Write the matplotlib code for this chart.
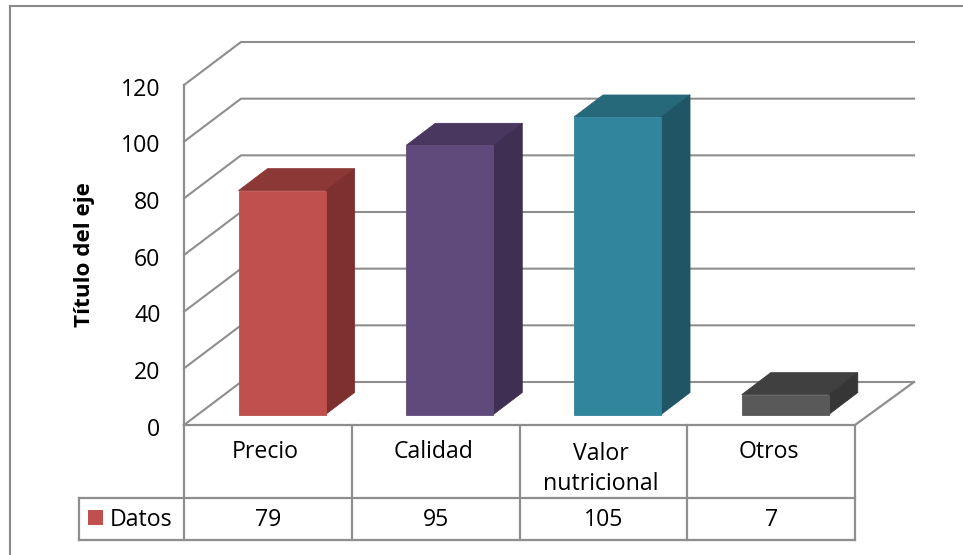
import matplotlib
matplotlib.use("Agg")
import matplotlib.pyplot as plt
from matplotlib.lines import Line2D
from matplotlib.patches import Polygon, Rectangle
from matplotlib.transforms import ScaledTranslation

categories = ["Precio", "Calidad", "Valor\nnutricional", "Otros"]
values = [79, 95, 105, 7]
series_name = "Datos"
axis_title = "Título del eje"
y_ticks = [0, 20, 40, 60, 80, 100, 120]

front_colors = ["#C0504D", "#604A7B", "#31859C", "#595959"]
top_colors = ["#8C3836", "#4A3760", "#26697B", "#404040"]
side_colors = ["#7D302E", "#3F2F52", "#1F5564", "#363636"]

W, H = 963, 555
GRID = "#8E8E8E"
TEXT = "#000000"
plt.rcParams["font.family"] = ["Open Sans", "DejaVu Sans"]

fig = plt.figure(figsize=(W / 100, H / 100), dpi=100, facecolor="white")

# Chart frame: only the top and left edges fall inside the image
fig.add_artist(Line2D([9.5 / W, 9.5 / W, 1], [0, 1 - 5.5 / H, 1 - 5.5 / H], transform=fig.transFigure,
                      color="#8A8A8A", lw=1.5, solid_joinstyle="miter"))

# Axes holds the front plane of the oblique 3D box
ax = fig.add_axes([184 / W, 1 - 425 / H, 671 / W, 340 / H])
ax.set_xlim(0, 4)
ax.set_ylim(0, 120)
ax.patch.set_visible(False)
for name, spine in ax.spines.items():
    spine.set_visible(name == "left")
ax.spines["left"].set_color(GRID)
ax.spines["left"].set_linewidth(1.6)
ax.set_xticks([])
ax.set_yticks(y_ticks)
ax.tick_params(axis="y", length=0, pad=17, labelsize=16.7, labelcolor=TEXT)
for tick_label in ax.get_yticklabels():
    tick_label.set_transform(tick_label.get_transform() + ScaledTranslation(0, -1.5 / 100, fig.dpi_scale_trans))
ax.set_ylabel(axis_title, fontsize=16.2, fontweight="bold", labelpad=19, color=TEXT)

x_per_px = 4 / 671
y_per_px = 120 / 340
depth_x = 57 * x_per_px
depth_y = 43 * y_per_px

# Wall grid lines with their receding edge on the left side wall
for t in y_ticks:
    ax.plot([0, depth_x, 730 * x_per_px], [t, t + depth_y, t + depth_y],
            color=GRID, lw=1.5, clip_on=False, zorder=1, solid_joinstyle="miter")

# Floor outline
ax.plot([0, 4, 4 + depth_x + 2 * x_per_px], [0, 0, depth_y],
        color=GRID, lw=1.6, clip_on=False, zorder=1)

# Bars: top face, side face, front face
bar_width = 87 * x_per_px
bar_inset = (168 - 87) / 2 * x_per_px
bar_shift = 29 * x_per_px
bar_rise = 22 * y_per_px
floor = 10.5 * y_per_px
for i, v in enumerate(values):
    x0 = i + bar_inset + 14 * x_per_px
    x1 = x0 + bar_width
    y1 = floor + v
    ax.add_patch(Polygon([(x0, y1), (x1, y1), (x1 + bar_shift, y1 + bar_rise), (x0 + bar_shift, y1 + bar_rise)],
                         facecolor=top_colors[i], edgecolor=top_colors[i], lw=0.6, zorder=3, clip_on=False))
    ax.add_patch(Polygon([(x1, floor), (x1 + bar_shift, floor + bar_rise), (x1 + bar_shift, y1 + bar_rise), (x1, y1)],
                         facecolor=side_colors[i], edgecolor=side_colors[i], lw=0.6, zorder=3, clip_on=False))
    ax.add_patch(Rectangle((x0, floor), bar_width, v,
                           facecolor=front_colors[i], edgecolor=front_colors[i], lw=0.6, zorder=4, clip_on=False))

# Data table under the plot
row_top = -(498 - 425) * y_per_px
row_end = -(540 - 425) * y_per_px
for i in range(5):
    ax.plot([i, i], [0, row_end], color=GRID, lw=1.6, clip_on=False, zorder=1)
left_edge = -(184 - 79) * x_per_px
for y in (row_top, row_end):
    ax.plot([left_edge, 4], [y, y], color=GRID, lw=1.6, clip_on=False, zorder=1)
ax.plot([left_edge, left_edge], [row_top, row_end], color=GRID, lw=1.6, clip_on=False, zorder=1)

for i, (label, v) in enumerate(zip(categories, values)):
    label_y = (469 if "\n" in label else 452) - 425
    ax.text(i + 0.485, -label_y * y_per_px, label, ha="center", va="center",
            fontsize=16.7, color=TEXT, linespacing=1.32, clip_on=False)
    ax.text(i + 0.5, -(519.5 - 425) * y_per_px, str(v), ha="center", va="center",
            fontsize=16.7, color=TEXT, clip_on=False)

# Legend key and series name in the table's first cell
ax.add_patch(Rectangle((-(184 - 88) * x_per_px, -(525 - 425) * y_per_px), 15 * x_per_px, 15 * y_per_px,
                       facecolor=front_colors[0], edgecolor="none", clip_on=False))
ax.text(-(184 - 110) * x_per_px, -(519.5 - 425) * y_per_px, series_name, ha="left", va="center",
        fontsize=16.7, color=TEXT, clip_on=False)

fig.savefig("out.png", dpi=100, facecolor="white")
